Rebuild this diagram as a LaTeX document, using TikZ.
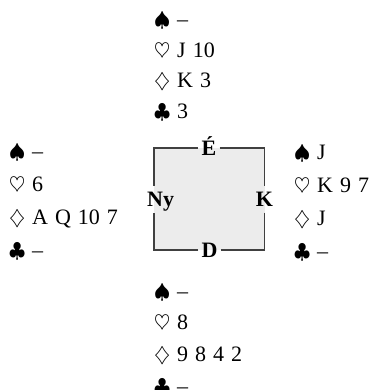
\documentclass[tikz,border=0pt]{standalone}
\usepackage{fontspec}
\setmainfont{Liberation Serif}
\usetikzlibrary{positioning}

% suit symbol in a box of fixed width
\newcommand{\suit}[1]{\makebox[23pt][l]{\fontsize{20}{20}\selectfont$#1$}}
\newcommand{\cardfont}{\fontsize{22}{26}\selectfont\spaceskip=7pt plus 1pt\relax}

% one hand: name, x, first baseline, line step, spades, hearts, diamonds, clubs
\newcommand{\hand}[8]{%
  \node[cardline] (#1S) at (#2,#3) {\suit{\spadesuit}#5};
  \node[cardline] (#1H) at (#2,#3+#4) {\suit{\heartsuit}#6};
  \node[cardline] (#1D) at (#2,#3+2*#4) {\suit{\diamondsuit}#7};
  \node[cardline] (#1C) at (#2,#3+3*#4) {\suit{\clubsuit}#8};
}

\begin{document}
\begin{tikzpicture}[x=1pt, y=-1pt,
  cardline/.style={anchor=base west, inner sep=0pt, font=\cardfont},
  seat/.style={anchor=base, inner xsep=3pt, inner ysep=3pt, text height=14.6pt, text depth=0pt,
    font=\fontsize{22}{26}\selectfont\bfseries},
  sideseat/.style={seat, inner ysep=6pt},
  frame/.style={line width=1.3pt, draw=black!75},
  boxfill/.style={fill=gray!15}]
  \useasboundingbox (0,0) rectangle (376,390);

  % table
  \coordinate (nw) at (154,148);
  \coordinate (se) at (265,250);
  \fill[boxfill] (nw) rectangle (se);
  \node[seat] (lE) at (209,155.3) {É};
  \node[seat] (lD) at (209.5,257.3) {D};
  \node[sideseat] (lK) at (264.5,206.3) {K};
  \node[sideseat, anchor=base west] (lNy) at (144,206.3) {Ny};
  \draw[frame] (lE.east) -| (lK.north);
  \draw[frame] (lK.south) |- (lD.east);
  \draw[frame] (lD.west) -| (lNy.south -| nw);
  \draw[frame] (nw |- lNy.north) |- (lE.west);

  % hands
  \hand{north}{154}{27}{30.4}{–}{J 10}{K 3}{3}
  \hand{west}{9}{158}{33}{–}{6}{A Q 10 7}{–}
  \hand{east}{294}{159}{33}{J}{K 9 7}{J}{–}
  \hand{south}{154}{298}{31.7}{–}{8}{9 8 4 2}{–}
\end{tikzpicture}
\end{document}
